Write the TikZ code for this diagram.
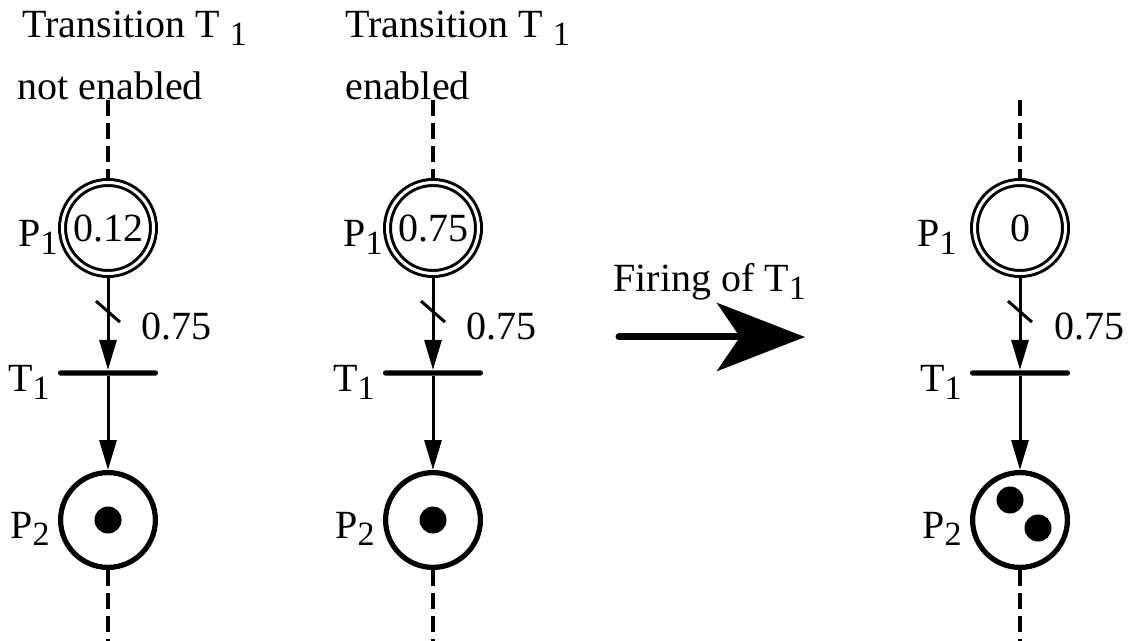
\documentclass[tikz,border=0pt]{standalone}
\usepackage{fontspec}
\setmainfont{Liberation Serif}
\usetikzlibrary{arrows.meta}

\newcommand{\tsub}[1]{\raisebox{-0.18em}{\fontsize{17}{19}\selectfont #1}}

\begin{document}
\begin{tikzpicture}[x=0.5pt, y=-0.5pt,
        every node/.style={font=\fontsize{20}{24}\selectfont, inner sep=0pt},
        inplace/.style={circle, draw, double, line width=1.5pt, double distance=1.5pt, minimum size=45.5pt, outer sep=2.25pt},
        outplace/.style={circle, draw, line width=2.6pt, minimum size=47.4pt},
        trans/.style={rectangle, fill, rounded corners=1.3pt, minimum width=50pt, minimum height=2.7pt},
        token/.style={circle, fill, minimum size=13.5pt},
        arc/.style={line width=1.5pt, -{Triangle[length=15pt, width=8.5pt]}},
        dashline/.style={line width=1.6pt, dash pattern=on 8pt off 3.5pt}]
        \useasboundingbox (0, 0) rectangle (1129, 641);

        % headers
        \node (heada) at (22, 38) [anchor=base west] {Transition T \tsub{1}};
        \node (nota) at (17, 100) [anchor=base west] {not enabled};
        \node (headb) at (345, 38) [anchor=base west] {Transition T \tsub{1}};
        \node (notb) at (345, 100) [anchor=base west] {enabled};

        % column a
        \coordinate (topa) at (108, 100);
        \coordinate (bota) at (108, 641);
        \node (p1a) at (108, 228) [inplace] {0.12};
        \node (t1a) at (108, 373) [trans] {};
        \node (p2a) at (108, 520) [outplace] {};
        \node (ka) at (108, 520) [token] {};
        \node (lp1a) at (58, 247) [anchor=base east] {P\tsub{1}};
        \node (lt1a) at (50, 392) [anchor=base east] {T\tsub{1}};
        \node (lp2a) at (50, 538) [anchor=base east] {P\tsub{2}};
        \node (wa) at (141, 326) [anchor=west] {0.75};
        \draw[dashline] (topa) -- (p1a);
        \draw[arc] (p1a) -- coordinate[pos=0.36] (sa) (t1a);
        \draw[line width=1.5pt] ([shift={(-12,-10)}]sa) -- ([shift={(12,11)}]sa);
        \draw[arc] (t1a) -- (p2a);
        \draw[dashline] (p2a) -- (bota);

        % column b
        \coordinate (topb) at (433, 100);
        \coordinate (botb) at (433, 641);
        \node (p1b) at (433, 228) [inplace] {0.75};
        \node (t1b) at (433, 373) [trans] {};
        \node (p2b) at (433, 520) [outplace] {};
        \node (kb) at (433, 520) [token] {};
        \node (lp1b) at (383, 247) [anchor=base east] {P\tsub{1}};
        \node (lt1b) at (375, 392) [anchor=base east] {T\tsub{1}};
        \node (lp2b) at (375, 538) [anchor=base east] {P\tsub{2}};
        \node (wb) at (466, 326) [anchor=west] {0.75};
        \draw[dashline] (topb) -- (p1b);
        \draw[arc] (p1b) -- coordinate[pos=0.36] (sb) (t1b);
        \draw[line width=1.5pt] ([shift={(-12,-10)}]sb) -- ([shift={(12,11)}]sb);
        \draw[arc] (t1b) -- (p2b);
        \draw[dashline] (p2b) -- (botb);

        % firing
        \node (fire) at (613, 292) [anchor=base west] {Firing of T\tsub{1}};
        \coordinate (fa) at (619, 337);
        \coordinate (fb) at (805, 337);
        \draw[line width=3.5pt, line cap=round, -{Stealth[length=44pt, width=34pt, inset=11.5pt]}] (fa) -- (fb);

        % column c
        \coordinate (topc) at (1020, 100);
        \coordinate (botc) at (1020, 641);
        \node (p1c) at (1020, 228) [inplace] {0};
        \node (t1c) at (1020, 373) [trans] {};
        \node (p2c) at (1020, 520) [outplace] {};
        \node (kc1) at (1010, 500) [token] {};
        \node (kc2) at (1038, 528) [token] {};
        \node (lp1c) at (957, 247) [anchor=base east] {P\tsub{1}};
        \node (lt1c) at (962, 392) [anchor=base east] {T\tsub{1}};
        \node (lp2c) at (962, 538) [anchor=base east] {P\tsub{2}};
        \node (wc) at (1054, 326) [anchor=west] {0.75};
        \draw[dashline] (topc) -- (p1c);
        \draw[arc] (p1c) -- coordinate[pos=0.36] (sc) (t1c);
        \draw[line width=1.5pt] ([shift={(-12,-10)}]sc) -- ([shift={(12,11)}]sc);
        \draw[arc] (t1c) -- (p2c);
        \draw[dashline] (p2c) -- (botc);
    \end{tikzpicture}
\end{document}
